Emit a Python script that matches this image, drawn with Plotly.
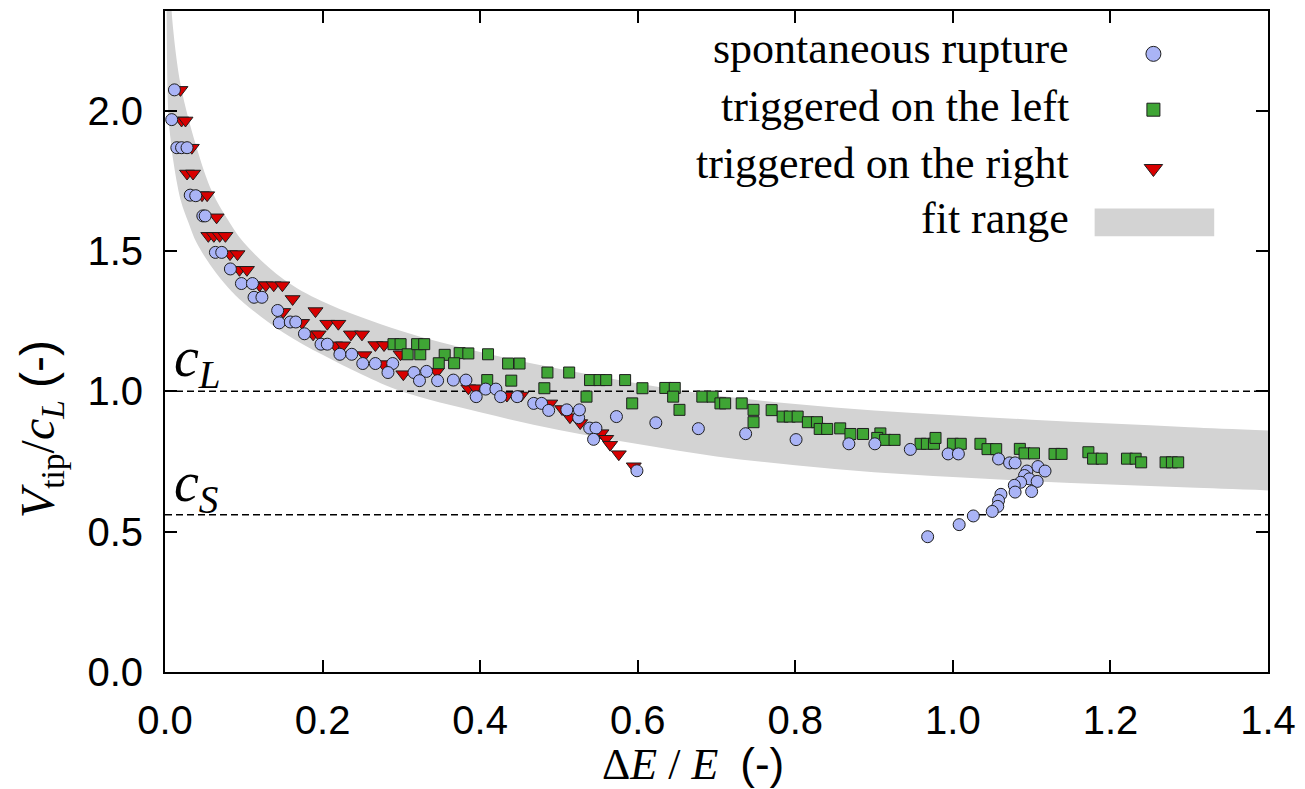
import plotly.graph_objects as go

# ---- measured rupture-tip velocities (normalised by c_L) vs energy excess ----
spont_x = [0.012, 0.0085, 0.015, 0.021, 0.028, 0.032, 0.039, 0.048, 0.051, 0.064,
           0.072, 0.083, 0.097, 0.111, 0.113, 0.123, 0.143, 0.145, 0.159, 0.166,
           0.177, 0.198, 0.206, 0.222, 0.237, 0.251, 0.267, 0.289, 0.283, 0.316,
           0.332, 0.323, 0.346, 0.366, 0.382, 0.395, 0.407, 0.420, 0.426, 0.447,
           0.468, 0.478, 0.487, 0.510, 0.525, 0.526, 0.539, 0.547, 0.544, 0.573,
           0.599, 0.623, 0.677, 0.737, 0.801, 0.868, 0.901, 0.946, 0.994, 1.007,
           1.058, 1.072, 1.079, 1.094, 1.108, 1.117, 1.091, 1.097, 1.107, 1.086,
           1.078, 1.079, 1.100, 1.061, 1.058, 1.057, 1.050, 1.026, 1.008, 0.968]
spont_y = [2.074, 1.968, 1.868, 1.868, 1.868, 1.699, 1.697, 1.625, 1.625, 1.495,
           1.495, 1.436, 1.384, 1.384, 1.335, 1.335, 1.288, 1.244, 1.247, 1.247,
           1.205, 1.168, 1.168, 1.132, 1.132, 1.099, 1.099, 1.099, 1.067, 1.067,
           1.071, 1.038, 1.038, 1.040, 1.040, 0.981, 1.008, 1.008, 0.981, 0.981,
           0.957, 0.957, 0.932, 0.934, 0.906, 0.934, 0.869, 0.869, 0.829, 0.910,
           0.717, 0.888, 0.867, 0.849, 0.828, 0.813, 0.813, 0.793, 0.777, 0.777,
           0.759, 0.745, 0.745, 0.716, 0.732, 0.716, 0.700, 0.688, 0.679, 0.676,
           0.665, 0.641, 0.643, 0.633, 0.611, 0.590, 0.572, 0.556, 0.525, 0.482]

left_x = [0.290, 0.299, 0.308, 0.324, 0.320, 0.329, 0.355, 0.374, 0.385, 0.3475,
          0.367, 0.410, 0.4355, 0.450, 0.409, 0.4395, 0.4854, 0.513, 0.4815, 0.5395,
          0.5516, 0.560, 0.584, 0.535, 0.593, 0.606, 0.635, 0.647, 0.645, 0.653,
          0.682, 0.695, 0.705, 0.711, 0.732, 0.747, 0.747, 0.770, 0.784, 0.793,
          0.803, 0.816, 0.8275, 0.831, 0.8405, 0.857, 0.870, 0.886, 0.908, 0.904,
          0.914, 0.926, 0.959, 0.967, 0.976, 0.978, 1.000, 1.010, 1.035, 1.044,
          1.055, 1.085, 1.091, 1.103, 1.129, 1.138, 1.172, 1.178, 1.189, 1.221,
          1.232, 1.239, 1.270, 1.278, 1.286]
left_y = [1.168, 1.168, 1.132, 1.132, 1.168, 1.168, 1.130, 1.136, 1.135, 1.100,
          1.100, 1.132, 1.099, 1.099, 1.040, 1.038, 1.067, 1.067, 1.011, 1.040,
          1.040, 1.040, 1.040, 0.981, 0.957, 1.011, 1.012, 1.012, 0.981, 0.934,
          0.981, 0.981, 0.957, 0.957, 0.957, 0.934, 0.890, 0.933, 0.910, 0.910,
          0.910, 0.890, 0.890, 0.866, 0.866, 0.868, 0.848, 0.848, 0.850, 0.834,
          0.827, 0.827, 0.813, 0.813, 0.813, 0.834, 0.813, 0.813, 0.813, 0.794,
          0.794, 0.795, 0.779, 0.779, 0.777, 0.777, 0.783, 0.760, 0.760, 0.760,
          0.760, 0.747, 0.747, 0.747, 0.747]

right_x = [0.0196, 0.021, 0.026, 0.034, 0.028, 0.0356, 0.047, 0.0535, 0.0655, 0.055,
           0.062, 0.0694, 0.0767, 0.0825, 0.092, 0.0945, 0.104, 0.120, 0.128, 0.138,
           0.149, 0.162, 0.150, 0.191, 0.174, 0.206, 0.220, 0.188, 0.195, 0.236,
           0.250, 0.216, 0.226, 0.267, 0.278, 0.253, 0.299, 0.277, 0.3025, 0.345,
           0.385, 0.394, 0.434, 0.452, 0.489, 0.504, 0.514, 0.527, 0.554, 0.560,
           0.565, 0.576, 0.595]
right_y = [2.074, 1.965, 1.965, 1.868, 1.776, 1.776, 1.699, 1.699, 1.620, 1.554,
           1.554, 1.554, 1.554, 1.489, 1.489, 1.433, 1.433, 1.378, 1.378, 1.378,
           1.378, 1.329, 1.283, 1.286, 1.244, 1.241, 1.241, 1.203, 1.203, 1.203,
           1.203, 1.164, 1.164, 1.165, 1.165, 1.129, 1.132, 1.097, 1.061, 1.070,
           1.011, 1.011, 0.985, 0.985, 0.957, 0.937, 0.908, 0.887, 0.851, 0.831,
           0.810, 0.776, 0.733]

# ---- fit range envelope ----
fit_lo_x = [0.002, 0.004, 0.007, 0.010, 0.020, 0.030, 0.040, 0.060, 0.080, 0.100,
            0.150, 0.200, 0.250, 0.300, 0.400, 0.500, 0.600, 0.700, 0.800, 0.900,
            1.000, 1.100, 1.200, 1.300, 1.400]
fit_lo_y = [2.40, 2.00, 1.90, 1.83, 1.68, 1.60, 1.53, 1.44, 1.37, 1.315,
            1.21, 1.13, 1.06, 1.00, 0.925, 0.862, 0.812, 0.768, 0.737, 0.712,
            0.695, 0.680, 0.668, 0.657, 0.647]
fit_hi_x = [0.0075, 0.010, 0.020, 0.040, 0.060, 0.080, 0.100, 0.150, 0.200, 0.300,
            0.400, 0.500, 0.600, 0.700, 0.800, 0.900, 1.000, 1.100, 1.200, 1.300,
            1.400]
fit_hi_y = [2.40, 2.30, 2.09, 1.87, 1.71, 1.61, 1.53, 1.40, 1.32, 1.215,
            1.14, 1.08, 1.028, 0.985, 0.955, 0.932, 0.915, 0.899, 0.885, 0.872,
            0.860]

# reference wave speeds (normalised)
c_L = 1.0
c_S = 0.56

x_ticks = [0.0, 0.2, 0.4, 0.6, 0.8, 1.0, 1.2, 1.4]
y_ticks = [0.0, 0.5, 1.0, 1.5, 2.0]

SERIF = "Liberation Serif"
SANS = "Liberation Sans"
EDGE = "#1e1e1e"
GREY = "#d3d3d3"
C_SPONT = "#aab4f6"
C_LEFT = "#3fa535"
C_RIGHT = "#d80000"

# plot area in page pixels (used to place titles in paper units)
PX_L, PX_R, PX_T, PX_B = 165, 1272, 9, 672


def paper_x(px):
    return (px - PX_L) / (PX_R - PX_L)


def paper_y(py):
    return (PX_B - py) / (PX_B - PX_T)


fig = go.Figure()

# fit band
fig.add_trace(go.Scatter(x=fit_lo_x, y=fit_lo_y, mode="lines",
                         line=dict(width=0, shape="spline", color=GREY),
                         showlegend=False, hoverinfo="skip"))
fig.add_trace(go.Scatter(x=fit_hi_x, y=fit_hi_y, mode="lines", fill="tonexty",
                         fillcolor=GREY, line=dict(width=0, shape="spline", color=GREY),
                         showlegend=False, hoverinfo="skip"))

# wave-speed reference lines
for level in (c_L, c_S):
    fig.add_trace(go.Scatter(x=[x_ticks[0], x_ticks[-1]], y=[level, level], mode="lines",
                             line=dict(color="black", width=1.4, dash="7px,4px"),
                             showlegend=False, hoverinfo="skip"))

# data series
fig.add_trace(go.Scatter(x=right_x, y=right_y, mode="markers", name="triggered on the right",
                         marker=dict(symbol="triangle-down", size=13, color=C_RIGHT,
                                     line=dict(color=EDGE, width=1)), showlegend=False))
fig.add_trace(go.Scatter(x=left_x, y=left_y, mode="markers", name="triggered on the left",
                         marker=dict(symbol="square", size=11, color=C_LEFT,
                                     line=dict(color=EDGE, width=1)), showlegend=False))
fig.add_trace(go.Scatter(x=spont_x, y=spont_y, mode="markers", name="spontaneous rupture",
                         marker=dict(symbol="circle", size=12, color=C_SPONT,
                                     line=dict(color=EDGE, width=1)), showlegend=False))

# key drawn on an overlay axis measured in page pixels
key_x = 1157
key_rows = [("spontaneous rupture", 50), ("triggered on the left", 108),
            ("triggered on the right", 165), ("fit range", 220)]
fig.add_trace(go.Scatter(x=[key_x], y=[key_rows[0][1] + 2], xaxis="x2", yaxis="y2", mode="markers",
                         marker=dict(symbol="circle", size=15, color=C_SPONT, line=dict(color=EDGE, width=1)),
                         showlegend=False, hoverinfo="skip"))
fig.add_trace(go.Scatter(x=[key_x], y=[key_rows[1][1]], xaxis="x2", yaxis="y2", mode="markers",
                         marker=dict(symbol="square", size=13, color=C_LEFT, line=dict(color=EDGE, width=1)),
                         showlegend=False, hoverinfo="skip"))
fig.add_trace(go.Scatter(x=[key_x], y=[key_rows[2][1] + 2], xaxis="x2", yaxis="y2", mode="markers",
                         marker=dict(symbol="triangle-down", size=16, color=C_RIGHT, line=dict(color=EDGE, width=1)),
                         showlegend=False, hoverinfo="skip"))

annotations = []
for label, yy in key_rows:
    annotations.append(dict(x=1074, y=yy - 3, xref="x2", yref="y2", text=label, showarrow=False,
                            xanchor="right", yanchor="middle",
                            font=dict(family=SERIF, size=44, color="black")))

shapes = [dict(type="rect", xref="x2", yref="y2", x0=1098, x1=1218, y0=207, y1=235,
               fillcolor=GREY, line=dict(width=0), layer="above")]

# wave-speed labels
annotations.append(dict(x=172, y=360, xref="x2", yref="y2", text="<i>c</i><sub><i>L</i></sub>",
                        showarrow=False, xanchor="left", yanchor="middle",
                        font=dict(family=SERIF, size=56, color="black")))
annotations.append(dict(x=172, y=485, xref="x2", yref="y2", text="<i>c</i><sub><i>S</i></sub>",
                        showarrow=False, xanchor="left", yanchor="middle",
                        font=dict(family=SERIF, size=56, color="black")))

# axis titles (paper units so they may sit outside the plot area)
annotations.append(dict(x=paper_x(695), y=paper_y(764), xref="paper", yref="paper",
                        text='Δ<i>E</i> / <i>E</i>  <span style="font-family:Liberation Sans">(-)</span>',
                        showarrow=False, xanchor="center", yanchor="middle",
                        font=dict(family=SERIF, size=44, color="black")))
annotations.append(dict(x=paper_x(40), y=paper_y(428), xref="paper", yref="paper", textangle=-90,
                        text='<i>V</i><sub>tip</sub>/<i>c</i><sub><i>L</i></sub> <span style="font-family:Liberation Sans">(-)</span>',
                        showarrow=False, xanchor="center", yanchor="middle",
                        font=dict(family=SERIF, size=48, color="black")))

axis_common = dict(showline=True, linecolor="black", linewidth=2, mirror="ticks",
                   ticks="inside", ticklen=12, tickwidth=2, tickcolor="black",
                   showgrid=False, zeroline=False,
                   tickfont=dict(family=SANS, size=40, color="black"))

fig.update_layout(
    width=1305, height=789,
    margin=dict(l=PX_L, r=1305 - PX_R, t=PX_T, b=789 - PX_B),
    paper_bgcolor="white", plot_bgcolor="white",
    showlegend=False,
    xaxis=dict(range=[0, 1.4], tickvals=x_ticks, ticktext=[f"{v:.1f}" for v in x_ticks],
               ticklabelstandoff=12, **axis_common),
    yaxis=dict(range=[0, 2.355], tickvals=y_ticks, ticktext=[f"{v:.1f}" for v in y_ticks],
               ticklabelstandoff=12, **axis_common),
    xaxis2=dict(overlaying="x", range=[PX_L, PX_R], visible=False, fixedrange=True),
    yaxis2=dict(overlaying="y", range=[PX_B, PX_T], visible=False, fixedrange=True),
    annotations=annotations,
    shapes=shapes,
)

fig.write_html("out.html")
